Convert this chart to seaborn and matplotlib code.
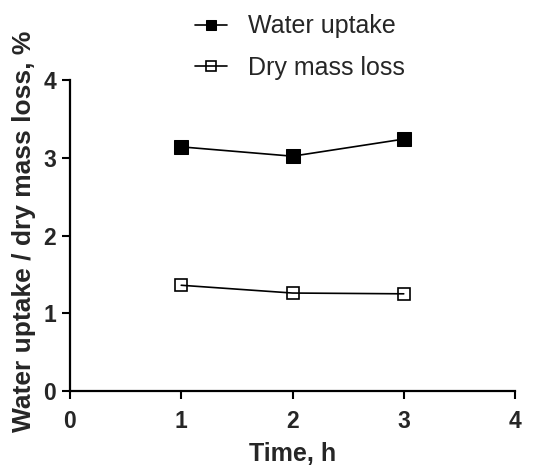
import matplotlib
matplotlib.use("Agg")
import matplotlib.pyplot as plt
import seaborn as sns
import pandas as pd

time_h = [1, 2, 3]
water_uptake = [3.14, 3.02, 3.24]
dry_mass_loss = [1.36, 1.26, 1.25]
series_names = ["Water uptake", "Dry mass loss"]
x_ticks = [0, 1, 2, 3, 4]
y_ticks = [0, 1, 2, 3, 4]

sns.set_theme(style="ticks")
plt.rcParams["font.family"] = ["Liberation Sans", "DejaVu Sans"]

df = pd.DataFrame({
    "time": time_h * 2,
    "value": water_uptake + dry_mass_loss,
    "series": [series_names[0]] * 3 + [series_names[1]] * 3,
})

fig = plt.figure(figsize=(5.43, 4.65), dpi=100)
ax = fig.add_axes([70 / 543, 1 - 391 / 465, (515 - 70) / 543, (391 - 80) / 465])

sns.lineplot(data=df[df.series == series_names[0]], x="time", y="value", ax=ax,
             color="black", lw=1.2, marker="s", markersize=9.5,
             markerfacecolor="black", markeredgecolor="black", label=series_names[0])
sns.lineplot(data=df[df.series == series_names[1]], x="time", y="value", ax=ax,
             color="black", lw=1.2, marker="s", markersize=9,
             markerfacecolor="none", markeredgecolor="black", markeredgewidth=1.2,
             label=series_names[1])

ax.set_xlim(0, 4)
ax.set_ylim(0, 4)
ax.set_xticks(x_ticks)
ax.set_yticks(y_ticks)
ax.set_xticklabels([str(t) for t in x_ticks], fontsize=16.5, fontweight="bold")
ax.set_yticklabels([str(t) for t in y_ticks], fontsize=16.5, fontweight="bold")
ax.tick_params(axis="both", direction="out", length=6, width=1.5, color="black")
ax.tick_params(axis="x", pad=8)
ax.tick_params(axis="y", pad=4)
for side in ("left", "bottom"):
    ax.spines[side].set_linewidth(1.6)
    ax.spines[side].set_color("black")
for side in ("top", "right"):
    ax.spines[side].set_visible(False)

ax.set_xlabel("Time, h", fontsize=18, fontweight="bold")
ax.set_ylabel("Water uptake / dry mass loss, %", fontsize=19, fontweight="bold")
ax.xaxis.set_label_coords(0.5, -0.165)
ax.yaxis.set_label_coords(-0.076, 0.513)

handles, labels = ax.get_legend_handles_labels()
leg = fig.legend(handles, labels, loc="upper left", bbox_to_anchor=(182 / 543, 1 - 2 / 465),
                 frameon=False, fontsize=18, handlelength=1.3, handletextpad=0.85,
                 labelspacing=0.7, borderpad=0, markerscale=0.8)
ax.get_legend().remove()

fig.savefig("out.png", dpi=100)
